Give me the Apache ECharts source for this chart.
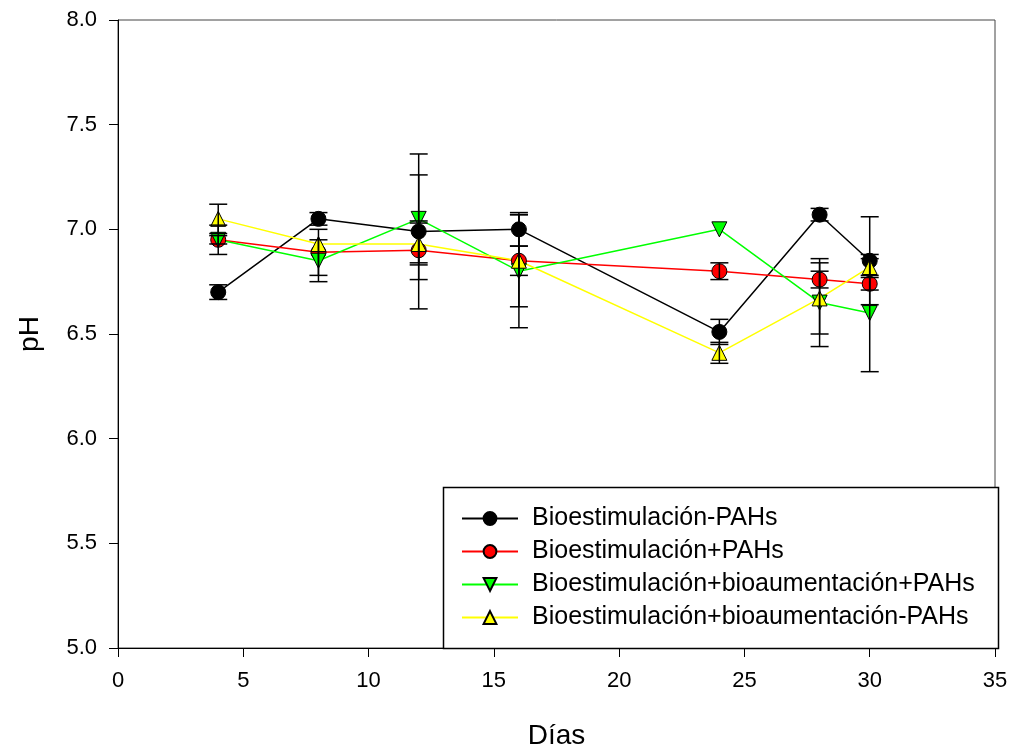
<!DOCTYPE html>
<html>
<head>
<meta charset="utf-8">
<script src="https://cdn.jsdelivr.net/npm/echarts@6/dist/echarts.min.js"></script>
<style>html,body{margin:0;padding:0;background:#fff}#c{width:1012px;height:755px}</style>
</head>
<body>
<div id="c"></div>
<script>
const days = [4, 8, 12, 16, 24, 28, 30];
const seriesNames = ['Bioestimulación-PAHs', 'Bioestimulación+PAHs', 'Bioestimulación+bioaumentación+PAHs', 'Bioestimulación+bioaumentación-PAHs'];
const bioPAHsNeg = [6.70, 7.05, 6.99, 7.00, 6.51, 7.07, 6.85];
const bioPAHsNegErr = [0.035, 0.03, 0.37, 0.08, 0.06, 0.03, 0.21];
const bioPAHsPos = [6.95, 6.89, 6.90, 6.85, 6.80, 6.76, 6.74];
const bioPAHsPosErr = [0.02, 0.11, 0.14, 0.07, 0.04, 0.04, 0.03];
const bioAumPAHsPos = [6.95, 6.85, 7.05, 6.80, 7.00, 6.65, 6.60];
const bioAumPAHsPosErr = [0.07, 0.10, 0.21, 0.27, 0, 0.21, 0.28];
const bioAumPAHsNeg = [7.05, 6.93, 6.93, 6.85, 6.41, 6.67, 6.82];
const bioAumPAHsNegErr = [0.07, 0, 0.10, 0.22, 0.05, 0.17, 0.04];

const FONT = '"Liberation Sans", Arial, sans-serif';
const valuesList = [bioPAHsNeg, bioPAHsPos, bioAumPAHsPos, bioAumPAHsNeg];
const errList = [bioPAHsNegErr, bioPAHsPosErr, bioAumPAHsPosErr, bioAumPAHsNegErr];
const colors = ['#000000', '#ff0000', '#00ff00', '#ffff00'];
const symbols = ['circle', 'circle', 'triangle', 'triangle'];
const rotates = [0, 0, 180, 0];

const series = [];
valuesList.forEach((vals, i) => {
  series.push({
    name: seriesNames[i],
    type: 'line',
    data: days.map((d, j) => [d, vals[j]]),
    symbol: symbols[i],
    symbolRotate: rotates[i],
    symbolSize: 15,
    z: 3,
    itemStyle: { color: colors[i], borderColor: '#000', borderWidth: 1, opacity: 1 },
    lineStyle: { color: colors[i], width: 1.5 },
    emphasis: { disabled: true },
    animation: false
  });
});
valuesList.forEach((vals, i) => {
  const errs = errList[i];
  const data = [];
  days.forEach((d, j) => { if (errs[j] > 0) data.push([d, vals[j] - errs[j], vals[j] + errs[j]]); });
  series.push({
    type: 'custom',
    z: 5,
    data: data,
    silent: true,
    animation: false,
    renderItem: function (params, api) {
      const x = api.value(0), lo = api.value(1), hi = api.value(2);
      const p1 = api.coord([x, hi]), p2 = api.coord([x, lo]);
      const w = 9;
      const st = { stroke: '#000', lineWidth: 1.5 };
      return {
        type: 'group',
        children: [
          { type: 'line', shape: { x1: p1[0], y1: p1[1], x2: p2[0], y2: p2[1] }, style: st },
          { type: 'line', shape: { x1: p1[0] - w, y1: p1[1], x2: p1[0] + w, y2: p1[1] }, style: st },
          { type: 'line', shape: { x1: p2[0] - w, y1: p2[1], x2: p2[0] + w, y2: p2[1] }, style: st }
        ]
      };
    }
  });
});

const chart = echarts.init(document.getElementById('c'), null, { renderer: 'canvas' });
chart.setOption({
  backgroundColor: '#fff',
  animation: false,
  grid: { left: 118, top: 20, right: 17, bottom: 103, show: true, borderColor: '#444', borderWidth: 1, backgroundColor: 'transparent' },
  graphic: [{
    type: 'rect', z: 50,
    shape: { x: 443.5, y: 487.5, width: 555, height: 161 },
    style: { fill: '#fff', stroke: '#000', lineWidth: 1.5 }
  }],
  legend: {
    orient: 'vertical',
    left: 461, top: 506,
    z: 60,
    data: seriesNames,
    padding: 0,
    itemGap: 8,
    itemWidth: 56,
    itemHeight: 16,
    textStyle: { fontFamily: FONT, fontSize: 25, color: '#000', lineHeight: 25, padding: [0, 0, 0, 9] }
  },
  xAxis: {
    type: 'value', min: 0, max: 35, interval: 5,
    name: 'Días', nameLocation: 'middle', nameGap: 74,
    nameTextStyle: { fontFamily: FONT, fontSize: 28, color: '#000' },
    axisLine: { show: true, lineStyle: { color: '#000', width: 1 } },
    axisTick: { show: true, inside: false, length: 9, lineStyle: { color: '#000', width: 1 } },
    axisLabel: { fontFamily: FONT, fontSize: 22, color: '#000', margin: 22 },
    splitLine: { show: false }
  },
  yAxis: {
    type: 'value', min: 5, max: 8, interval: 0.5,
    name: 'pH', nameLocation: 'middle', nameGap: 74,
    nameTextStyle: { fontFamily: FONT, fontSize: 28, color: '#000' },
    axisLine: { show: true, lineStyle: { color: '#000', width: 1 } },
    axisTick: { show: true, inside: false, length: 9, lineStyle: { color: '#000', width: 1 } },
    axisLabel: { fontFamily: FONT, fontSize: 22, color: '#000', margin: 21, formatter: v => v.toFixed(1) },
    splitLine: { show: false }
  },
  series: series
});
</script>
</body>
</html>
